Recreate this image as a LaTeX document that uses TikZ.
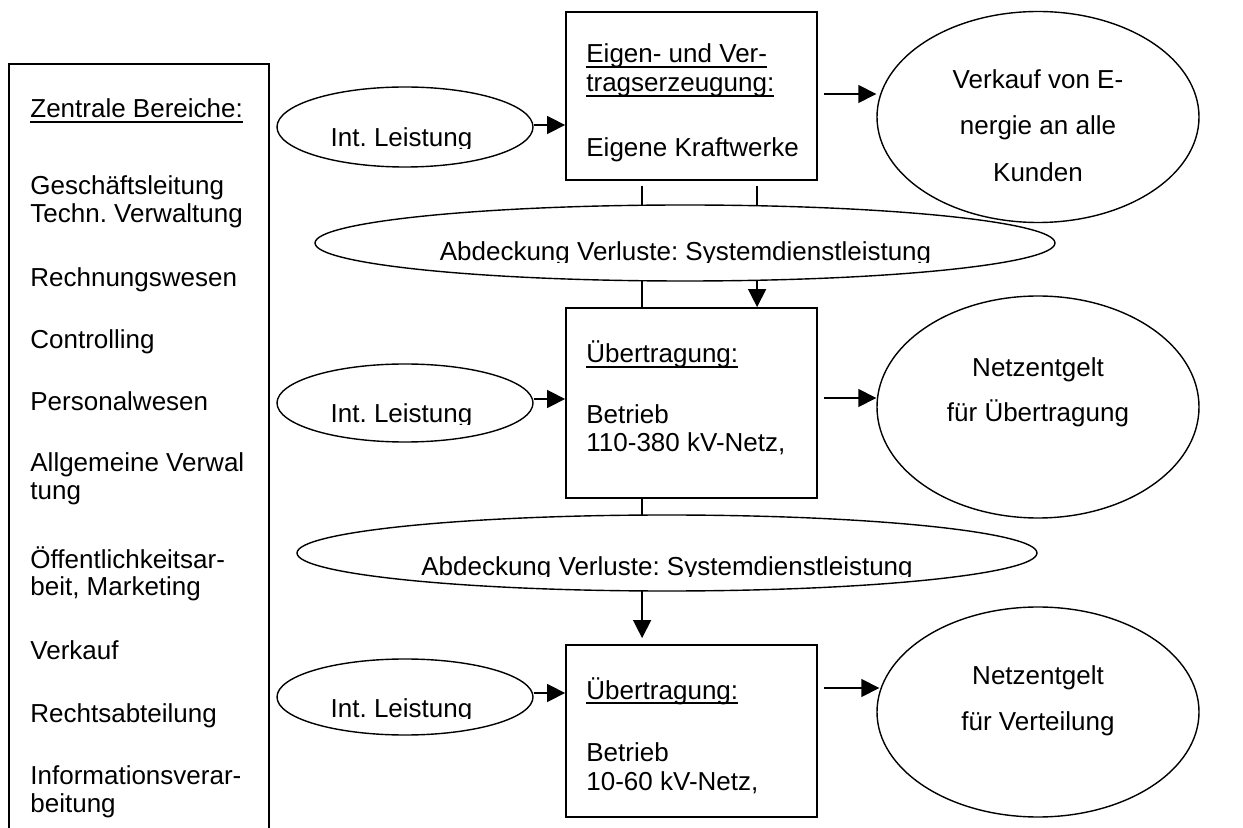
\documentclass[tikz,border=0pt]{standalone}
\usepackage{fontspec}
\setmainfont{Liberation Sans}
\usetikzlibrary{shapes.geometric,arrows.meta,calc}
% underline drawn a fixed distance below the baseline
\newsavebox\ulinebox
\newcommand{\ulin}[1]{\sbox\ulinebox{#1}\rlap{\rule[-2.4pt]{\wd\ulinebox}{0.9pt}}\usebox\ulinebox}

\begin{document}
\begin{tikzpicture}[x=0.5pt,y=-0.5pt,
  font=\fontsize{13}{15}\selectfont\frenchspacing,
  frame/.style={line width=0.9pt},
  boxnode/.style={draw, rectangle, line width=0.9pt, minimum width=125.5pt, inner sep=0pt},
  oval/.style={draw, ellipse, line width=0.7pt, inner sep=0pt},
  ln/.style={line width=0.75pt},
  arr/.style={line width=0.75pt, -{Triangle[length=9pt,width=9pt]}},
  lbl/.style={inner sep=0pt, anchor=base west},
  clbl/.style={inner sep=0pt, anchor=base}]
\useasboundingbox (0,0) rectangle (1243,828);

% central departments column (runs off the bottom edge)
\draw[frame] (9,828) |- (269,64) -- (269,828);

% process boxes
\node[boxnode, minimum height=84pt] (box1) at (691.5,96) {};
\node[boxnode, minimum height=95pt] (box2) at (691.5,403) {};
\node[boxnode, minimum height=86pt] (box3) at (691.5,731) {};

% vertical links between the boxes (partly hidden by the loss ovals)
\draw[ln]  ($(box1.south west)+(77,5)$)  -- ($(box2.north west)+(77,0)$);
\draw[arr] ($(box1.south west)+(192,5)$) -- ($(box2.north west)+(192,0)$);
\draw[arr] ($(box2.south west)+(77,0)$)  -- ($(box3.north west)+(77,-6)$);

% ovals
\node[oval, fill=white, minimum width=370pt, minimum height=38pt] (ab1) at (685,243) {};
\node[oval, fill=white, minimum width=370pt, minimum height=38pt] (ab2) at (667,553) {};
\node[oval, minimum width=128pt, minimum height=40pt] (il1) at (405,127) {};
\node[oval, minimum width=128pt, minimum height=39pt] (il2) at (405,403) {};
\node[oval, minimum width=128pt, minimum height=38pt] (il3) at (405,697) {};
\node[oval, minimum width=161pt, minimum height=105.5pt] (vk) at (1038,117) {};
\node[oval, minimum width=161pt, minimum height=111pt] (nu) at (1038,407) {};
\node[oval, minimum width=161pt, minimum height=105pt] (nv) at (1038,712) {};

% column text
\node[lbl] (zb0)  at (30,118) {\ulin{Zentrale Bereiche:}};
\node[lbl] (zb1)  at (30,195) {Geschäftsleitung};
\node[lbl] (zb2)  at (30,223) {Techn. Verwaltung};
\node[lbl] (zb3)  at (30,287) {Rechnungswesen};
\node[lbl] (zb4)  at (30,349) {Controlling};
\node[lbl] (zb5)  at (30,411) {Personalwesen};
\node[lbl] (zb6)  at (30,472) {Allgemeine Verwal};
\node[lbl] (zb7)  at (30,500) {tung};
\node[lbl] (zb8)  at (30,568) {Öffentlichkeitsar-};
\node[lbl] (zb9)  at (30,596) {beit, Marketing};
\node[lbl] (zb10) at (30,660) {Verkauf};
\node[lbl] (zb11) at (30,722) {Rechtsabteilung};
\node[lbl] (zb12) at (30,784) {Informationsverar-};
\node[lbl] (zb13) at (30,812) {beitung};

% box text
\node[lbl] (b1a) at (586,63)  {\ulin{Eigen- und Ver-}};
\node[lbl] (b1b) at (586,92)  {\ulin{tragserzeugung:}};
\node[lbl] (b1c) at (586,157) {Eigene Kraftwerke};
\node[lbl] (b2a) at (586,363) {\ulin{Übertragung:}};
\node[lbl] (b2b) at (586,424) {Betrieb};
\node[lbl] (b2c) at (586,452) {110-380 kV-Netz,};
\node[lbl] (b3a) at (586,699) {\ulin{Übertragung:}};
\node[lbl] (b3b) at (586,761) {Betrieb};
\node[lbl] (b3c) at (586,790) {10-60 kV-Netz,};

% result ovals text
\node[clbl] (vka) at (1038,89)  {Verkauf von E-};
\node[clbl] (vkb) at (1038,135) {nergie an alle};
\node[clbl] (vkc) at (1038,182) {Kunden};
\node[clbl] (nua) at (1038,377) {Netzentgelt};
\node[clbl] (nub) at (1038,422) {für Übertragung};
\node[clbl] (nva) at (1038,684) {Netzentgelt};
\node[clbl] (nvb) at (1038,730) {für Verteilung};

% oval labels cut off just below the baseline
\begin{scope}
  \clip (300,90) rectangle (520,148.5);
  \node[clbl] (il1t) at (401.5,147) {Int. Leistung};
\end{scope}
\begin{scope}
  \clip (300,370) rectangle (520,424.5);
  \node[clbl] (il2t) at (401.5,423) {Int. Leistung};
\end{scope}
\begin{scope}
  \clip (300,660) rectangle (520,718.5);
  \node[clbl] (il3t) at (401.5,717) {Int. Leistung};
\end{scope}
\begin{scope}
  \clip (400,210) rectangle (970,262.5);
  \node[clbl] (ab1t) at (685.5,261) {Abdeckung Verluste: Systemdienstleistung};
\end{scope}
\begin{scope}
  \clip (380,520) rectangle (950,576.5);
  \node[clbl] (ab2t) at (667,575) {Abdeckung Verluste: Systemdienstleistung};
\end{scope}

% inputs into the boxes
\draw[arr] ($(il1.east)+(0,-2)$) -- ($(il1.east -| box1.west)+(0,-2)$);
\draw[arr] ($(il2.east)+(0,-4)$) -- ($(il2.east -| box2.west)+(0,-4)$);
\draw[arr] ($(il3.east)+(0,-4)$) -- ($(il3.east -| box3.west)+(0,-4)$);

% outputs of the boxes
\draw[arr] ($(box1.east)+(6,-2)$)  -- ($(box1.east -| vk.west)+(0,-2)$);
\draw[arr] ($(box2.east)+(6,-5)$)  -- ($(box2.east -| nu.west)+(0,-5)$);
\draw[arr] ($(box3.east)+(6,-43)$) -- ($(nv.west)+(3,-24)$);
\end{tikzpicture}
\end{document}
